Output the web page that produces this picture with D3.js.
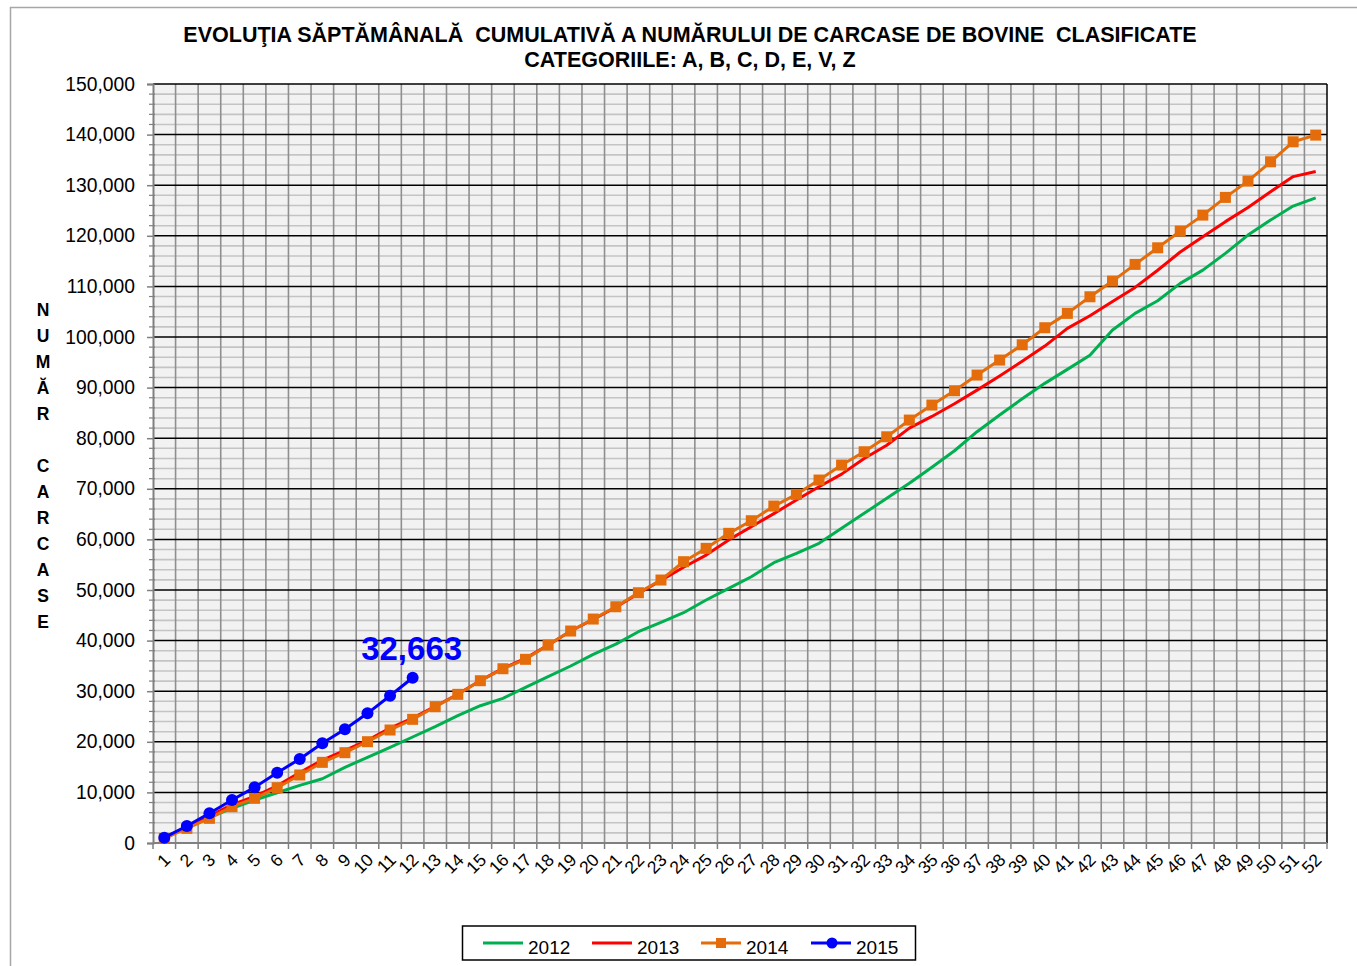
<!DOCTYPE html>
<html>
<head>
<meta charset="utf-8">
<script src="https://cdn.jsdelivr.net/npm/d3@7"></script>
<style>
    body { margin: 0; background: #fff; }
    svg { display: block; font-family: "Liberation Sans", Arial, sans-serif; }
</style>
</head>
<body>
<div id="chart"></div>
<script>
// weeks 1..52
const weeks = d3.range(1, 53)

const values2012 = [930, 3100, 5080, 6860, 8500, 9940, 11400, 12700, 14960, 16930, 18910, 20950, 22980, 25160, 27130, 28590, 30770, 32860, 34980, 37290, 39300, 41760, 43600, 45510, 48020, 50330, 52620, 55390, 57240, 59220, 62180, 65150, 68110, 71080, 74240, 77520, 81280, 84570, 87800, 90840, 93600, 96400, 101370, 104670, 107160, 110600, 113220, 116520, 120140, 123110, 125870, 127510]
const values2013 = [1100, 3150, 5300, 7600, 9200, 11300, 13900, 16400, 18300, 20300, 22700, 24700, 27000, 29400, 32100, 34500, 36500, 39100, 41900, 44200, 46600, 49300, 51900, 54500, 56900, 59900, 62500, 65100, 67800, 70400, 72900, 76000, 78600, 82000, 84300, 86800, 89500, 92300, 95200, 98200, 101700, 104200, 107000, 109800, 113200, 116800, 119800, 122800, 125600, 128700, 131700, 132700]
const values2014 = [900, 2900, 4880, 7180, 8830, 10930, 13440, 15940, 17850, 20020, 22330, 24440, 26940, 29380, 32070, 34440, 36300, 39120, 41890, 44260, 46690, 49460, 51970, 55590, 58230, 61200, 63690, 66590, 68900, 71730, 74690, 77320, 80280, 83580, 86550, 89380, 92480, 95440, 98460, 101830, 104670, 107950, 111050, 114350, 117630, 120930, 124090, 127590, 130810, 134630, 138580, 139900]
const values2015 = [1050, 3360, 5870, 8500, 11000, 13900, 16600, 19700, 22470, 25630, 29100, 32663]

const seriesNames = ['2012', '2013', '2014', '2015']
const yTicks = d3.range(0, 150001, 10000)
const yMinorTicks = d3.range(0, 150001, 2000)
const titleLines = [
    'EVOLUŢIA SĂPTĂMÂNALĂ  CUMULATIVĂ A NUMĂRULUI DE CARCASE DE BOVINE  CLASIFICATE',
    'CATEGORIILE: A, B, C, D, E, V, Z',
]
const yTitle = 'NUMĂR CARCASE'

const series = [
    { name: seriesNames[0], values: values2012, color: '#00B050', marker: null },
    { name: seriesNames[1], values: values2013, color: '#FF0000', marker: null },
    { name: seriesNames[2], values: values2014, color: '#E46C0A', marker: 'square' },
    { name: seriesNames[3], values: values2015, color: '#0000FF', marker: 'circle' },
]

const setSvg = (id) => {
    const svg = d3.select(`#${id}`)
    .append('svg')
        .attr('width', 1357)
        .attr('height', 966)

    // outer chart frame
    svg.append('path')
        .attr('d', 'M10.5,966 L10.5,7.5 L1357,7.5')
        .attr('fill', 'none')
        .attr('stroke', '#a6a6a6')
        .attr('stroke-width', 1.5)

    const plot = { left: 153, top: 84, right: 1327, bottom: 843 }
    return { svg, plot }
}

const setScales = (svg, plot) => {
    const xScale = d3.scaleBand().domain(weeks).range([plot.left, plot.right]).padding(0)
    const yScale = d3.scaleLinear().domain([0, 150000]).range([plot.bottom, plot.top])

    svg.append('rect')
        .attr('x', plot.left).attr('y', plot.top)
        .attr('width', plot.right - plot.left).attr('height', plot.bottom - plot.top)
        .attr('fill', '#f2f2f2')

    // minor horizontal grid
    svg.append('g')
    .selectAll('line')
    .data(yMinorTicks.filter((d) => d % 10000 !== 0))
    .enter()
    .append('line')
        .attr('x1', plot.left).attr('x2', plot.right)
        .attr('y1', (d) => yScale(d)).attr('y2', (d) => yScale(d))
        .attr('stroke', '#c4c4c4')
        .attr('stroke-width', 1.6)

    // vertical grid at category boundaries
    svg.append('g')
    .selectAll('line')
    .data(weeks.slice(1))
    .enter()
    .append('line')
        .attr('x1', (d) => xScale(d)).attr('x2', (d) => xScale(d))
        .attr('y1', plot.top).attr('y2', plot.bottom)
        .attr('stroke', '#8f8f8f')
        .attr('stroke-width', 1.6)

    // major horizontal grid
    svg.append('g')
    .selectAll('line')
    .data(yTicks.slice(1))
    .enter()
    .append('line')
        .attr('x1', plot.left).attr('x2', plot.right)
        .attr('y1', (d) => yScale(d)).attr('y2', (d) => yScale(d))
        .attr('stroke', '#000')
        .attr('stroke-width', 1.5)

    // plot border right
    svg.append('line')
        .attr('x1', plot.right).attr('x2', plot.right)
        .attr('y1', plot.top).attr('y2', plot.bottom)
        .attr('stroke', '#000').attr('stroke-width', 1.5)

    // y axis
    const yAxis = d3.axisLeft(yScale)
        .tickValues(yTicks)
        .tickFormat(d3.format(','))
        .tickSize(6)
        .tickPadding(12)
    const yLegend = svg.append('g')
        .attr('transform', `translate(${plot.left},0)`)
        .call(yAxis)
    yLegend.select('.domain').attr('stroke', '#808080').attr('stroke-width', 2)
    yLegend.selectAll('.tick line').attr('stroke', '#808080').attr('stroke-width', 1.5)
    yLegend.selectAll('text')
        .attr('font-size', 19.3)
        .attr('fill', '#000')

    svg.append('g')
    .selectAll('line')
    .data(yMinorTicks.filter((d) => d % 10000 !== 0))
    .enter()
    .append('line')
        .attr('x1', plot.left - 4).attr('x2', plot.left + 2)
        .attr('y1', (d) => yScale(d)).attr('y2', (d) => yScale(d))
        .attr('stroke', '#808080')
        .attr('stroke-width', 1.2)

    // x axis
    svg.append('line')
        .attr('x1', plot.left).attr('x2', plot.right)
        .attr('y1', plot.bottom).attr('y2', plot.bottom)
        .attr('stroke', '#808080').attr('stroke-width', 2)

    svg.append('g')
    .selectAll('line')
    .data(weeks.concat([53]))
    .enter()
    .append('line')
        .attr('x1', (d) => d === 53 ? plot.right : xScale(d))
        .attr('x2', (d) => d === 53 ? plot.right : xScale(d))
        .attr('y1', plot.bottom).attr('y2', plot.bottom + 6)
        .attr('stroke', '#808080').attr('stroke-width', 1.5)

    const xAxis = d3.axisBottom(xScale).tickSize(0).tickPadding(0)
    const xLegend = svg.append('g')
        .attr('transform', `translate(0,${plot.bottom})`)
        .call(xAxis)
    xLegend.select('.domain').remove()
    xLegend.selectAll('text')
        .attr('font-size', 17.5)
        .attr('fill', '#000')
        .attr('y', 0)
        .attr('dy', 0)
        .attr('transform', 'translate(7,18)rotate(-45)')
        .style('text-anchor', 'end')

    return { xScale, yScale }
}

const drawLines = (svg, xScale, yScale) => {
    const cx = (i) => xScale(weeks[i]) + xScale.bandwidth() / 2
    const line = d3.line()
        .x((d, i) => cx(i))
        .y((d) => yScale(d))

    series.forEach((s) => {
        const g = svg.append('g')
        g.append('path')
            .datum(s.values)
            .attr('d', line)
            .attr('fill', 'none')
            .attr('stroke', s.color)
            .attr('stroke-width', 3)
            .attr('stroke-linejoin', 'round')

        if (s.marker === 'square') {
            g.selectAll('rect')
            .data(s.values)
            .enter()
            .append('rect')
                .attr('x', (d, i) => cx(i) - 5.5)
                .attr('y', (d) => yScale(d) - 5.5)
                .attr('width', 11)
                .attr('height', 11)
                .attr('fill', s.color)
        }
        if (s.marker === 'circle') {
            g.selectAll('circle')
            .data(s.values)
            .enter()
            .append('circle')
                .attr('cx', (d, i) => cx(i))
                .attr('cy', (d) => yScale(d))
                .attr('r', 6)
                .attr('fill', s.color)
        }
    })

    // label of last 2015 value
    const last = values2015.length - 1
    svg.append('text')
        .attr('x', cx(last) - 1)
        .attr('y', yScale(values2015[last]) - 18)
        .attr('text-anchor', 'middle')
        .attr('font-size', 33)
        .attr('font-weight', 'bold')
        .attr('fill', '#0000FF')
        .text(d3.format(',')(values2015[last]))
}

const drawTexts = (svg) => {
    svg.selectAll('.title')
    .data(titleLines)
    .enter()
    .append('text')
        .attr('class', 'title')
        .attr('x', 690)
        .attr('y', (d, i) => 42 + i * 25)
        .attr('text-anchor', 'middle')
        .attr('font-size', 21.5)
        .attr('font-weight', 'bold')
        .style('white-space', 'pre')
        .text((d) => d)

    svg.append('g')
    .selectAll('text')
    .data(yTitle.split(''))
    .enter()
    .append('text')
        .attr('x', 43)
        .attr('y', (d, i) => 316 + i * 26)
        .attr('text-anchor', 'middle')
        .attr('font-size', 17.5)
        .attr('font-weight', 'bold')
        .text((d) => d)
}

const drawLegend = (svg) => {
    const g = svg.append('g')
    g.append('rect')
        .attr('x', 462.5).attr('y', 926)
        .attr('width', 453).attr('height', 34)
        .attr('fill', '#fff')
        .attr('stroke', '#000')
        .attr('stroke-width', 1.5)

    const itemX = [483, 592, 701, 811]
    series.forEach((s, i) => {
        const x0 = itemX[i]
        g.append('line')
            .attr('x1', x0).attr('x2', x0 + 40)
            .attr('y1', 943).attr('y2', 943)
            .attr('stroke', s.color).attr('stroke-width', 3)
        if (s.marker === 'square') {
            g.append('rect')
                .attr('x', x0 + 20 - 5).attr('y', 943 - 5)
                .attr('width', 10).attr('height', 10)
                .attr('fill', s.color)
        }
        if (s.marker === 'circle') {
            g.append('circle')
                .attr('cx', x0 + 21).attr('cy', 943)
                .attr('r', 5.5)
                .attr('fill', s.color)
        }
        g.append('text')
            .attr('x', x0 + 45)
            .attr('y', 954)
            .attr('font-size', 19)
            .text(s.name)
    })
}

const { svg, plot } = setSvg('chart')
const { xScale, yScale } = setScales(svg, plot)
drawLines(svg, xScale, yScale)
drawTexts(svg)
drawLegend(svg)
</script>
</body>
</html>
